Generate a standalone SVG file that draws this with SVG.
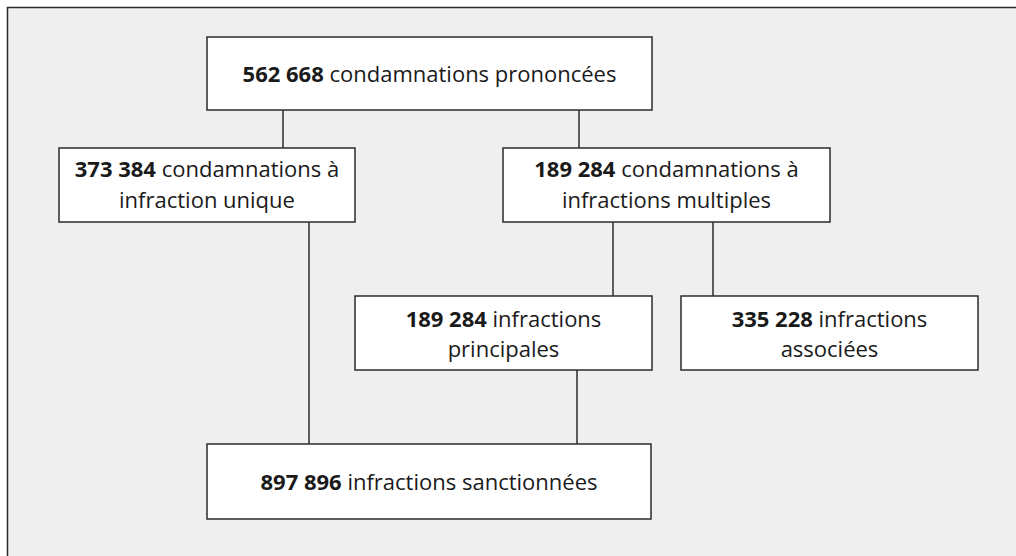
<svg xmlns="http://www.w3.org/2000/svg" width="1016" height="556" viewBox="0 0 1016 556">
<style>
.box{fill:#ffffff;stroke:#2b2b2b;stroke-width:1.5}
.lbl{font-family:"Open Sans","Noto Sans",sans-serif;font-size:22px;fill:#1a1a1a;text-anchor:middle}
.num{font-weight:bold}
.conn line{stroke:#2b2b2b;stroke-width:1.5}
</style>
<rect x="0" y="0" width="1016" height="556" fill="#ffffff"/>
<rect x="7.5" y="7.5" width="1020" height="560" fill="#efefef" stroke="#2b2b2b" stroke-width="1.5"/>
<g class="conn" id="connectors">
<line x1="283" y1="110" x2="283" y2="148"/>
<line x1="579" y1="110" x2="579" y2="148"/>
<line x1="309" y1="222" x2="309" y2="444"/>
<line x1="613" y1="222" x2="613" y2="296"/>
<line x1="713" y1="222" x2="713" y2="296"/>
<line x1="577" y1="370" x2="577" y2="444"/>
</g>
<g id="n-total">
<rect class="box" x="207" y="37" width="445" height="73"/>
<text class="lbl" x="429.5" y="82"><tspan class="num">562 668</tspan> condamnations prononcées</text>
</g>
<g id="n-unique">
<rect class="box" x="59" y="148" width="296" height="74"/>
<text class="lbl" x="207" y="177"><tspan class="num">373 384</tspan> condamnations à</text>
<text class="lbl" x="207" y="208">infraction unique</text>
</g>
<g id="n-multiples">
<rect class="box" x="503" y="148" width="327" height="74"/>
<text class="lbl" x="666.5" y="177"><tspan class="num">189 284</tspan> condamnations à</text>
<text class="lbl" x="666.5" y="208">infractions multiples</text>
</g>
<g id="n-principales">
<rect class="box" x="355" y="296" width="297" height="74"/>
<text class="lbl" x="503.5" y="327"><tspan class="num">189 284</tspan> infractions</text>
<text class="lbl" x="503.5" y="357">principales</text>
</g>
<g id="n-associees">
<rect class="box" x="681" y="296" width="297" height="74"/>
<text class="lbl" x="829.5" y="327"><tspan class="num">335 228</tspan> infractions</text>
<text class="lbl" x="829.5" y="357">associées</text>
</g>
<g id="n-sanctionnees">
<rect class="box" x="207" y="444" width="444" height="75"/>
<text class="lbl" x="429" y="490"><tspan class="num">897 896</tspan> infractions sanctionnées</text>
</g>
</svg>
